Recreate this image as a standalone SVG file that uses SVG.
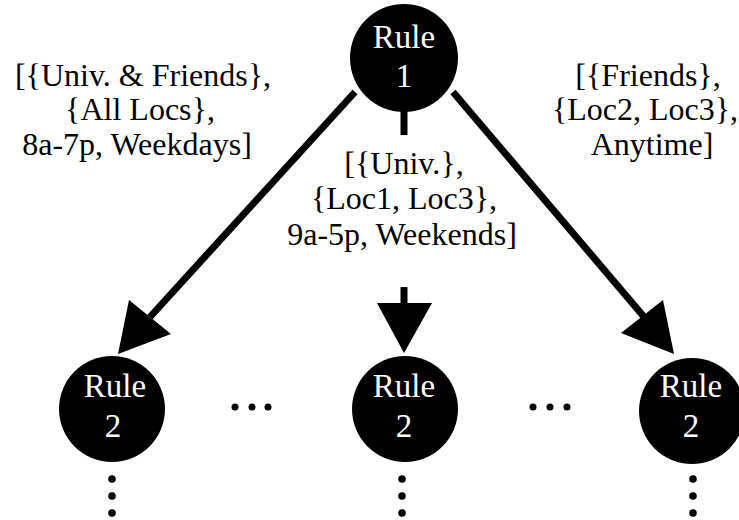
<svg xmlns="http://www.w3.org/2000/svg" width="739" height="520" viewBox="0 0 739 520">
<style>
.node circle{fill:#000}
.nt{font-family:'Liberation Serif','Times New Roman',serif;font-size:33px;fill:#fff;text-anchor:middle}
.lbl{font-family:'Liberation Serif','Times New Roman',serif;font-size:32px;fill:#000;text-anchor:middle}
.edge line{stroke:#000;stroke-width:7}
.head{fill:#000}
.dot{fill:#000}
</style>
<rect width="739" height="520" fill="#fff"/>
<g id="connectors" class="edge">
<line x1="355" y1="92" x2="150" y2="317"/>
<polygon class="head" points="118,354 129,300 171,334"/>
<line x1="404" y1="108" x2="404" y2="135"/>
<line x1="404" y1="287" x2="404" y2="305"/>
<polygon class="head" points="377,303 432,303 404,353"/>
<line x1="453" y1="92" x2="645" y2="318"/>
<polygon class="head" points="674,354 663,300 621,333"/>
</g>
<g id="label-left" font-family="Liberation Serif, serif">
<text class="lbl" x="143" y="86">[{Univ. &amp; Friends},</text>
<text class="lbl" x="140" y="120">{All Locs},</text>
<text class="lbl" x="137" y="155">8a-7p, Weekdays]</text>
</g>
<g id="label-middle" font-family="Liberation Serif, serif">
<text class="lbl" x="404" y="174">[{Univ.},</text>
<text class="lbl" x="404" y="209">{Loc1, Loc3},</text>
<text class="lbl" x="402" y="245">9a-5p, Weekends]</text>
</g>
<g id="label-right" font-family="Liberation Serif, serif">
<text class="lbl" x="648" y="86">[{Friends},</text>
<text class="lbl" x="645" y="120">{Loc2, Loc3},</text>
<text class="lbl" x="652" y="155">Anytime]</text>
</g>
<g id="rule1" class="node" font-family="Liberation Serif, serif">
<circle cx="404" cy="58" r="54"/>
<text class="nt" x="404" y="48">Rule</text>
<text class="nt" x="404" y="87">1</text>
</g>
<g id="rule2-left" class="node" font-family="Liberation Serif, serif">
<circle cx="112" cy="409" r="53"/>
<text class="nt" x="115" y="397">Rule</text>
<text class="nt" x="113" y="437">2</text>
</g>
<g id="rule2-middle" class="node" font-family="Liberation Serif, serif">
<circle cx="405" cy="409" r="53"/>
<text class="nt" x="404" y="397">Rule</text>
<text class="nt" x="404" y="437">2</text>
</g>
<g id="rule2-right" class="node" font-family="Liberation Serif, serif">
<circle cx="692" cy="411" r="53"/>
<text class="nt" x="691" y="397">Rule</text>
<text class="nt" x="691" y="437">2</text>
</g>
<g id="ellipses">
<circle class="dot" cx="235" cy="407" r="3.5"/>
<circle class="dot" cx="252" cy="407" r="3.5"/>
<circle class="dot" cx="268" cy="407" r="3.5"/>
<circle class="dot" cx="533" cy="407" r="3.5"/>
<circle class="dot" cx="550" cy="407" r="3.5"/>
<circle class="dot" cx="567" cy="407" r="3.5"/>
<circle class="dot" cx="112" cy="479" r="3.8"/>
<circle class="dot" cx="112" cy="496" r="3.8"/>
<circle class="dot" cx="112" cy="513" r="3.8"/>
<circle class="dot" cx="402" cy="479" r="3.8"/>
<circle class="dot" cx="402" cy="496" r="3.8"/>
<circle class="dot" cx="402" cy="513" r="3.8"/>
<circle class="dot" cx="693" cy="479" r="3.8"/>
<circle class="dot" cx="693" cy="496" r="3.8"/>
<circle class="dot" cx="693" cy="513" r="3.8"/>
</g>
</svg>
